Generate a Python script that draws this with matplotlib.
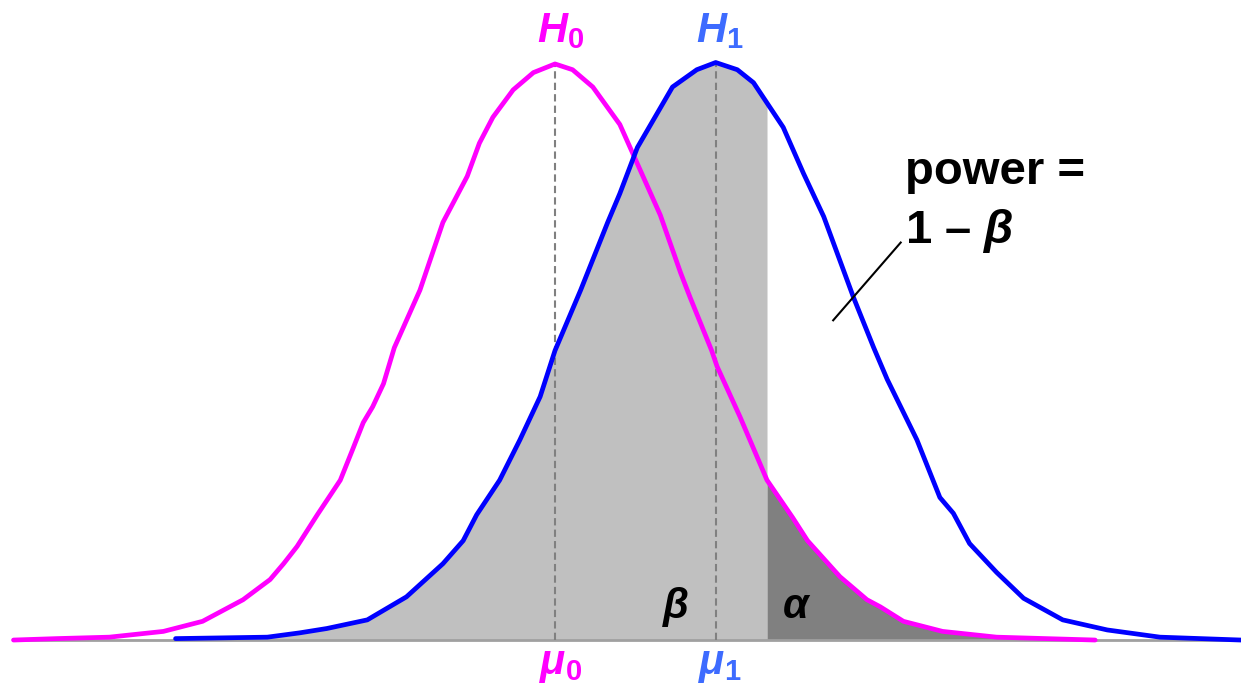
import numpy as np
import matplotlib
matplotlib.use('Agg')
import matplotlib.pyplot as plt

plt.rcParams['font.family'] = ['Liberation Sans', 'DejaVu Sans']
plt.rcParams['mathtext.fontset'] = 'custom'
plt.rcParams['mathtext.it'] = 'Liberation Sans:bold:italic'
plt.rcParams['mathtext.rm'] = 'Liberation Sans:bold'
plt.rcParams['mathtext.bf'] = 'Liberation Sans:bold'

# H0 density curve
h0_x = [-4.01, -3.69, -3.30, -2.90, -2.61, -2.31, -2.11, -2.01, -1.91, -1.76, -1.59, -1.50,
        -1.42, -1.35, -1.27, -1.19, -1.00, -0.83, -0.65, -0.56, -0.46, -0.31, -0.16, 0.00,
        0.13, 0.28, 0.48, 0.58, 0.78, 0.93, 1.00, 1.16, 1.20, 1.37, 1.57, 1.76, 1.87, 2.11,
        2.31, 2.41, 2.58, 2.87, 3.27, 4.00]
h0_y = [0.000, 0.001, 0.002, 0.006, 0.013, 0.028, 0.042, 0.053, 0.065, 0.087, 0.111, 0.132,
        0.151, 0.162, 0.178, 0.203, 0.243, 0.290, 0.322, 0.345, 0.363, 0.382, 0.394, 0.400,
        0.396, 0.384, 0.358, 0.337, 0.295, 0.255, 0.238, 0.201, 0.190, 0.155, 0.111, 0.085,
        0.069, 0.044, 0.028, 0.023, 0.013, 0.006, 0.002, 0.000]

# H1 density curve
h1_x = [-2.81, -2.13, -1.89, -1.69, -1.39, -1.10, -0.83, -0.68, -0.58, -0.41, -0.26, -0.11,
        0.00, 0.19, 0.39, 0.48, 0.61, 0.87, 1.05, 1.19, 1.35, 1.47, 1.69, 1.84, 1.99, 2.21,
        2.36, 2.46, 2.68, 2.85, 2.95, 3.07, 3.27, 3.47, 3.76, 4.09, 4.48, 5.08]
h1_y = [0.001, 0.002, 0.005, 0.008, 0.014, 0.030, 0.053, 0.069, 0.087, 0.111, 0.139, 0.169,
        0.201, 0.243, 0.290, 0.310, 0.342, 0.384, 0.396, 0.401, 0.396, 0.387, 0.356, 0.324,
        0.294, 0.238, 0.203, 0.181, 0.139, 0.099, 0.088, 0.067, 0.047, 0.029, 0.014, 0.007,
        0.002, 0.000]

mu0 = 0.0
mu1 = 1.19
crit = 1.57

h0_x = np.array(h0_x)
h0_y = np.array(h0_y)
h1_x = np.array(h1_x)
h1_y = np.array(h1_y)

fig = plt.figure(figsize=(12.41, 6.88), dpi=100)
ax = fig.add_axes([0, 0, 1, 1])
ax.set_xlim(-4.11, 5.08)
ax.set_ylim(-0.0333, 0.4444)
ax.axis('off')

# beta region: under H1, left of the critical value
m = h1_x < crit
bx = np.concatenate([h1_x[m], [crit]])
by = np.concatenate([h1_y[m], [np.interp(crit, h1_x, h1_y)]])
ax.fill_between(bx, 0, by, color='#c0c0c0', lw=0, zorder=1)

# alpha region: under H0, right of the critical value
m = h0_x > crit
axx = np.concatenate([[crit], h0_x[m]])
ayy = np.concatenate([[np.interp(crit, h0_x, h0_y)], h0_y[m]])
ax.fill_between(axx, 0, ayy, color='#808080', lw=0, zorder=1)

ax.plot([-4.01, 5.08], [0, 0], color='#a0a0a0', lw=2, zorder=2)

ax.plot([mu0, mu0], [0, 0.400], color='#808080', lw=1.5, ls=(0, (3.5, 2)), zorder=2)
ax.plot([mu1, mu1], [0, 0.401], color='#808080', lw=1.5, ls=(0, (3.5, 2)), zorder=2)

ax.plot(h0_x, h0_y, color='#ff00ff', lw=3.4, solid_capstyle='round', solid_joinstyle='round', zorder=3)
ax.plot(h1_x, h1_y, color='#0000ff', lw=3.4, solid_capstyle='round', solid_joinstyle='round', zorder=3)

ax.text(0.04, 0.423, r'$H_0$', color='#ff00ff', fontsize=30, ha='center', va='center')
ax.text(1.22, 0.423, r'$H_1$', color='#3d6bff', fontsize=30, ha='center', va='center')
ax.text(0.04, -0.017, r'$\mu_0$', color='#ff00ff', fontsize=30, ha='center', va='center')
ax.text(1.22, -0.017, r'$\mu_1$', color='#3d6bff', fontsize=30, ha='center', va='center')

ax.text(0.89, 0.023, r'$\beta$', color='black', fontsize=30, ha='center', va='center')
ax.text(1.79, 0.023, r'$\alpha$', color='black', fontsize=30, ha='center', va='center')

ax.text(2.59, 0.325, 'power =', fontsize=34, fontweight='bold', ha='left', va='center')
ax.text(2.59, 0.284, r'1 – $\beta$', fontsize=34, fontweight='bold', ha='left', va='center')
ax.plot([2.06, 2.56], [0.222, 0.276], color='black', lw=1.5, zorder=4)

fig.savefig('out.png', dpi=100)
